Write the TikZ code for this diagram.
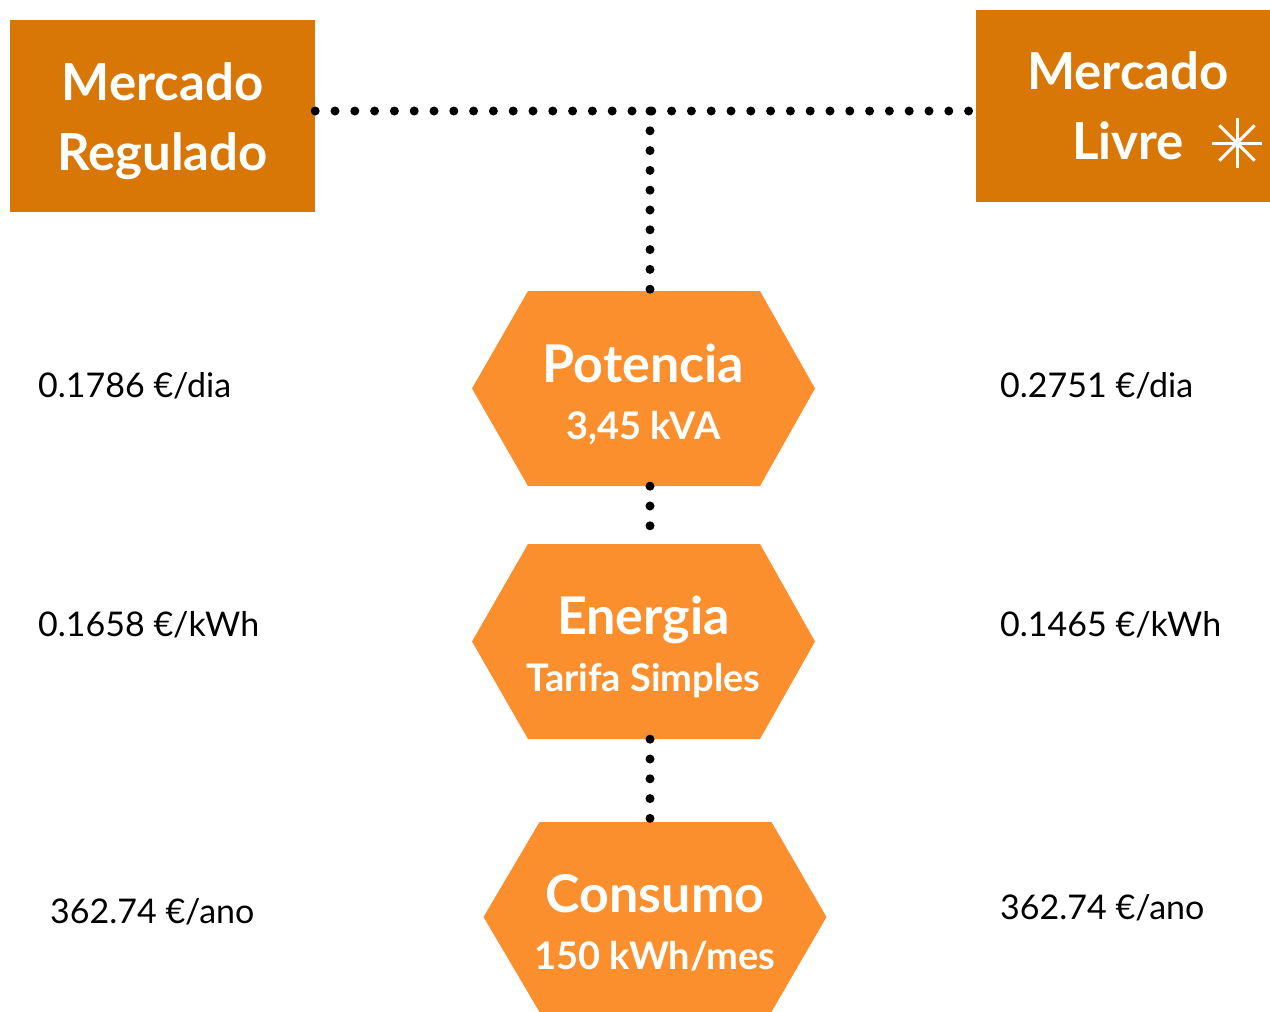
\documentclass[tikz,border=0pt]{standalone}
\usepackage{fontspec}
\setmainfont{Lato}
\definecolor{boxor}{HTML}{D97706}
\definecolor{hexor}{HTML}{FC8F2D}
\newcommand\hexbig{\fontsize{52}{58}\selectfont\rule{0pt}{50pt}}
\newcommand\hexsub{\fontsize{38}{58}\selectfont}
\begin{document}
\begin{tikzpicture}[x=1pt,y=-1pt,
  mbox/.style={fill=boxor,minimum width=305pt,minimum height=192pt,inner sep=0pt},
  boxtext/.style={text=white,inner sep=0pt,font=\bfseries\fontsize{51}{70}\selectfont,align=center},
  hexnode/.style={minimum width=343pt,minimum height=195pt,inner sep=0pt,text=white,align=center,
    font=\bfseries\fontsize{38}{57}\selectfont,
    path picture={\fill[hexor] (path picture bounding box.west)
      -- ([xshift=56pt]path picture bounding box.north west)
      -- ([xshift=-55pt]path picture bounding box.north east)
      -- (path picture bounding box.east)
      -- ([xshift=-55pt]path picture bounding box.south east)
      -- ([xshift=56pt]path picture bounding box.south west) -- cycle;}},
  val/.style={font=\fontsize{34}{36}\selectfont,anchor=west,inner sep=0pt},
  dots/.style={line width=9pt,line cap=round,dash pattern=on 0pt off 19.8pt}]
\useasboundingbox (0,0) rectangle (1270,1012);
% boxes
\node[mbox] (reg) at (162.5,116) {};
\node[boxtext] (regt) at ([yshift=-5pt]reg.center) {Mercado\\Regulado};
\node[mbox,minimum width=294pt] (liv) at (1123,106) {};
\node[boxtext] (livt) at ([xshift=5pt]liv.center) {Mercado\\Livre};
\node[inner sep=0pt,minimum size=50pt] (star) at (1237,143) {};
\foreach \a in {0,45,90,135}
  \draw[white,line width=3pt] (star.center) ++(\a:25pt) -- ++(\a+180:50pt);
% hexagons
\node[hexnode] (pot) at (643.5,388.5) {{\hexbig Potencia}\\{\hexsub 3,45 kVA}};
\node[hexnode] (ene) at (643.5,641.5) {{\hexbig Energia}\\{\hexsub Tarifa Simples}};
\node[hexnode,minimum height=190pt] (con) at (655,917) {{\hexbig Consumo}\\{\hexsub 150 kWh/mes}};
% connectors
\coordinate (j) at (650,111);
\draw[dots] (reg.east |- j) -- (liv.west |- j);
\draw[dots] (j) -- (j |- pot.north);
\draw[dots] (j |- pot.south) -- (j |- ene.north);
\draw[dots] (j |- ene.south) -- (j |- con.north);
% values
\node[val] (v1) at (38,386) {0.1786 €/dia};
\node[val] (v2) at (38,625) {0.1658 €/kWh};
\node[val] (v3) at (50,912) {362.74 €/ano};
\node[val] (w1) at (1000,386) {0.2751 €/dia};
\node[val] (w2) at (1000,625) {0.1465 €/kWh};
\node[val] (w3) at (1000,908) {362.74 €/ano};
\end{tikzpicture}
\end{document}
